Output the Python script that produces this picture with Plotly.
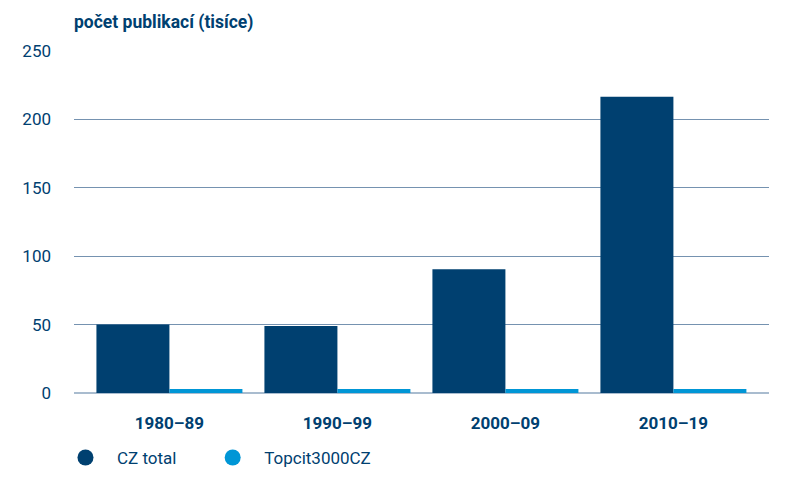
import plotly.graph_objects as go

categories = ["1980–89", "1990–99", "2000–09", "2010–19"]
cz_total = [50, 49, 90.5, 216.5]
topcit = [3, 3, 3, 3]
series_names = ["CZ total", "Topcit3000CZ"]
y_ticks = [0, 50, 100, 150, 200, 250]

dark = "#004070"
light = "#0096d6"
font_family = "Roboto, Open Sans, sans-serif"
fs = 17

fig = go.Figure()
fig.add_trace(go.Bar(x=categories, y=cz_total, name=series_names[0],
                     marker=dict(color=dark, line=dict(width=0)), showlegend=False))
fig.add_trace(go.Bar(x=categories, y=topcit, name=series_names[1],
                     marker=dict(color=light, line=dict(width=0)), showlegend=False))
# legend entries with circle symbols
fig.add_trace(go.Scatter(x=[None], y=[None], mode="markers", name=series_names[0],
                         marker=dict(symbol="circle", size=20, color=dark), legend="legend"))
fig.add_trace(go.Scatter(x=[None], y=[None], mode="markers", name=series_names[1],
                         marker=dict(symbol="circle", size=20, color=light), legend="legend2"))

legend_common = dict(orientation="h", xanchor="left", y=-0.19, yanchor="middle",
                     font=dict(family=font_family, size=fs, color=dark),
                     itemwidth=53, bgcolor="rgba(0,0,0,0)")

fig.update_layout(
    width=787, height=480,
    margin=dict(l=66, r=26, t=43, b=92),
    paper_bgcolor="white", plot_bgcolor="white",
    barmode="group", bargap=0.131, bargroupgap=0,
    font=dict(family=font_family, color=dark, size=fs),
    title=dict(text="<b>počet publikací (tisíce)</b>", x=66/787, xanchor="left",
               y=1-14/480, yanchor="middle",
               font=dict(family=font_family, size=fs + 0.5, color=dark)),
    legend=dict(x=-0.0288, **legend_common),
    legend2=dict(x=0.183, **legend_common),
    xaxis=dict(type="category", range=[-0.568, 3.569], showgrid=False,
               tickfont=dict(family=font_family, size=fs, color=dark, weight="bold"),
               ticklabelstandoff=18, showline=False, zeroline=False),
    yaxis=dict(range=[0, 250], tickvals=y_ticks, showgrid=True,
               gridcolor="#7592b0", gridwidth=1,
               zeroline=True, zerolinecolor="#a9bccf", zerolinewidth=2,
               ticklabelstandoff=22, tickfont=dict(family=font_family, size=fs, color=dark)),
)

fig.write_html("out.html")
